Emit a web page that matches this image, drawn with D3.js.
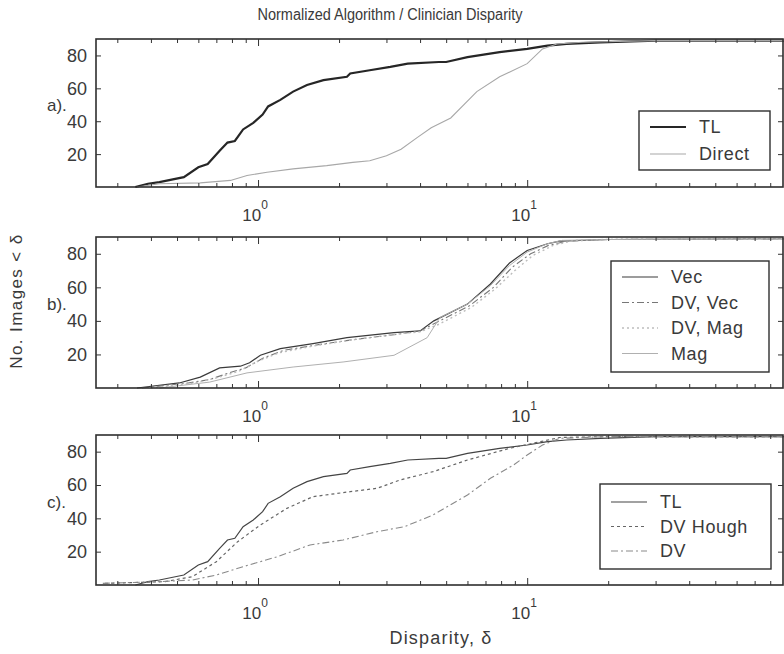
<!DOCTYPE html>
<html>
<head>
<meta charset="utf-8">
<script src="https://cdn.jsdelivr.net/npm/d3@7"></script>
<style>
body { margin:0; background:#fff; }
text { font-family: "Liberation Sans", Arial, sans-serif; fill:#3a3a3a; }
</style>
</head>
<body>
<div id="chart"></div>
<script>
// disparity (x) and cumulative number of images (y)
let tlD = [0.35,0.39,0.43,0.53,0.60,0.65,0.72,0.77,0.82,0.88,0.96,1.04,1.09,1.21,1.35,1.52,1.75,2.14,2.2,2.6,3.1,3.6,4.7,5.0,6.0,7.9,10,11.9,14,18.7,30,90];
let tlN = [0,2,3,6,12,14,22,27,28,35,39,44,49,53,58,62,65,67,69,71,73,75,76,76,79,82,84,86,87,88,89,89];

let directD = [0.355,0.43,0.61,0.79,0.91,1.08,1.35,1.8,2.25,2.6,3.0,3.4,3.9,4.4,5.2,6.5,7.9,10,11.4,12.9,16,30,90];
let directN = [0,2,2.5,4,7,9,11,13,15,16,19,23,30,36,42,58,67,75,84,87,88,89,89];

let vecD = [0.355,0.51,0.61,0.72,0.86,0.93,1.02,1.21,1.6,2.14,3.2,4.0,4.5,6.0,7.3,8.6,10,11.9,13.2,20,90];
let vecN = [0,3,6.5,12,13,15,19.5,23.5,26.5,30,33,34,40,50,62,74.5,82,86,87.5,88.5,89];

let dvVecD = [0.37,0.55,0.66,0.78,0.9,1.05,1.25,1.7,2.3,3.3,4.0,4.6,6.1,7.5,8.8,10.3,12,14,20,90];
let dvVecN = [0,3,5,9,12,18,22.5,26,29,32,34,39,49,60,72,80,85,87.5,88.5,89];

let dvMagD = [0.4,0.58,0.7,0.85,1.0,1.2,1.6,2.2,3.2,4.0,4.7,6.2,7.6,9.0,10.5,12.5,15,25,90];
let dvMagN = [0,3,6,10,16,21,25,28.5,32,33.5,38,48,59,70,79,85,88,89,89];

let magD = [0.43,0.66,0.91,1.35,2.07,3.2,4.25,4.74,6.0,7.3,8.6,10,11.9,13.5,20,90];
let magN = [0,3.5,9,12.5,15.5,19.5,30,42,50,61,73,81,86,88,88.5,89];

let houghD = [0.27,0.45,0.57,0.70,0.84,1.02,1.28,1.6,2.2,2.77,3.37,4.47,6.0,8.6,11.2,13.2,20,90];
let houghN = [1,2,5,14,26,36,46,53,56,58,63,68,75,82,86,88.5,89,89];

let dvD = [0.265,0.43,0.57,0.70,0.88,1.18,1.56,2.07,2.77,3.5,4.47,6.0,7.3,8.9,10,11.4,13.2,20,90];
let dvN = [1,2,3,6,11,17,24,27,32,35,42,54,64,72,78,84,88,89,89];

let yTicks = [20,40,60,80];
let xMajor = [1,10];
let xMinor = [0.3,0.4,0.5,0.6,0.7,0.8,0.9,2,3,4,5,6,7,8,9,20,30,40,50,60,70,80,90];
let xDomain = [0.25,90];
let yDomain = [0,90];

let w = 784, h = 654;

let svg = d3.select("#chart")
    .append("svg")
    .attr("width", w)
    .attr("height", h);

let xScale = d3.scaleLog()
    .domain(xDomain)
    .range([96, 784]);

function zip(ds, ns){
    return ds.map(function(d,i){ return {x:d, y:ns[i]}; });
}

function panel(top, bottom, label, series, legendBox){
    let yScale = d3.scaleLinear()
        .domain(yDomain)
        .range([bottom, top]);

    let g = svg.append("g");

    let line = d3.line()
        .x(function(d){ return xScale(d.x); })
        .y(function(d){ return yScale(d.y); });

    series.forEach(function(s){
        g.append("path")
            .attr("d", line(zip(s.d, s.n)))
            .attr("fill","none")
            .attr("stroke", s.color)
            .attr("stroke-width", s.width)
            .attr("stroke-dasharray", s.dash || null);
    });

    // frame
    g.append("rect")
        .attr("x", xScale.range()[0])
        .attr("y", top)
        .attr("width", xScale.range()[1] - xScale.range()[0] - 1)
        .attr("height", bottom - top)
        .attr("fill","none")
        .attr("stroke","#2e2e2e")
        .attr("stroke-width",1.6);

    // inward ticks, bottom and top
    let xAxisB = d3.axisTop(xScale).tickValues(xMinor).tickSize(4).tickFormat("");
    let xAxisT = d3.axisBottom(xScale).tickValues(xMinor).tickSize(4).tickFormat("");
    let xMajB = d3.axisTop(xScale).tickValues(xMajor).tickSize(7).tickFormat("");
    let xMajT = d3.axisBottom(xScale).tickValues(xMajor).tickSize(7).tickFormat("");
    [[xAxisB,bottom],[xMajB,bottom],[xAxisT,top],[xMajT,top]].forEach(function(a){
        g.append("g")
            .attr("transform","translate(0," + a[1] + ")")
            .call(a[0])
            .call(function(s){ s.select(".domain").remove(); s.selectAll("line").attr("stroke","#333"); });
    });

    let yAxisL = d3.axisRight(yScale).tickValues(yTicks).tickSize(5).tickFormat("");
    let yAxisR = d3.axisLeft(yScale).tickValues(yTicks).tickSize(5).tickFormat("");
    g.append("g").attr("transform","translate(96,0)").call(yAxisL)
        .call(function(s){ s.select(".domain").remove(); s.selectAll("line").attr("stroke","#333"); });
    g.append("g").attr("transform","translate(783,0)").call(yAxisR)
        .call(function(s){ s.select(".domain").remove(); s.selectAll("line").attr("stroke","#333"); });

    g.selectAll("ylab")
        .data(yTicks)
        .enter()
        .append("text")
        .attr("x", 87)
        .attr("y", function(d){ return yScale(d); })
        .attr("dy","0.36em")
        .style("text-anchor","end")
        .style("font-size","18px")
        .text(function(d){ return d; });

    g.append("text")
        .attr("x", 47)
        .attr("y", yScale(50))
        .attr("dy","0.36em")
        .style("font-size","17px")
        .text(label);

    // x tick labels with superscript exponent
    xMajor.forEach(function(v){
        let t = g.append("text")
            .attr("x", xScale(v) - 3)
            .attr("y", bottom + 34)
            .style("text-anchor","middle")
            .style("font-size","17px");
        t.append("tspan").text("10");
        t.append("tspan")
            .attr("dy", -12)
            .style("font-size","12px")
            .text(Math.round(Math.log10(v)));
    });

    // legend
    g.append("rect")
        .attr("x", legendBox.x)
        .attr("y", legendBox.y)
        .attr("width", legendBox.w)
        .attr("height", legendBox.h)
        .attr("fill","#fff")
        .attr("stroke","#2e2e2e")
        .attr("stroke-width",1.4);

    series.forEach(function(s,i){
        let ly = legendBox.y + legendBox.first + i*legendBox.step;
        g.append("line")
            .attr("x1", legendBox.x + 11)
            .attr("x2", legendBox.x + 47)
            .attr("y1", ly)
            .attr("y2", ly)
            .attr("stroke", s.color)
            .attr("stroke-width", s.width)
            .attr("stroke-dasharray", s.dash || null);
        g.append("text")
            .attr("x", legendBox.x + 60)
            .attr("y", ly)
            .attr("dy","0.36em")
            .style("font-size","18px")
            .style("letter-spacing","0.6px")
            .text(s.name);
    });
}

panel(39, 187, "a).", [
    {name:"TL", d:tlD, n:tlN, color:"#262626", width:2.2},
    {name:"Direct", d:directD, n:directN, color:"#a8a8a8", width:1.1}
], {x:639, y:111, w:131, h:59, first:16, step:27});

panel(237, 388, "b).", [
    {name:"Vec", d:vecD, n:vecN, color:"#3a3a3a", width:1.2},
    {name:"DV, Vec", d:dvVecD, n:dvVecN, color:"#777", width:1.1, dash:"7,3,2,3"},
    {name:"DV, Mag", d:dvMagD, n:dvMagN, color:"#bdbdbd", width:1.4, dash:"2,3"},
    {name:"Mag", d:magD, n:magN, color:"#b0b0b0", width:1}
], {x:611, y:261, w:158, h:111, first:16, step:25.5});

panel(435, 585, "c).", [
    {name:"TL", d:tlD, n:tlN, color:"#444", width:1.2},
    {name:"DV Hough", d:houghD, n:houghN, color:"#666", width:1.2, dash:"3,3"},
    {name:"DV", d:dvD, n:dvN, color:"#8a8a8a", width:1.1, dash:"7,3,2,3"}
], {x:600, y:484, w:171, h:85, first:18, step:24.5});

svg.append("text")
    .attr("x", 390)
    .attr("y", 20)
    .style("text-anchor","middle")
    .style("font-size","16px")
    .attr("textLength", 265)
    .attr("lengthAdjust","spacingAndGlyphs")
    .text("Normalized Algorithm / Clinician Disparity");

svg.append("text")
    .attr("x", 441)
    .attr("y", 644)
    .style("text-anchor","middle")
    .style("font-size","18px")
    .style("letter-spacing","1.2px")
    .text("Disparity, δ");

svg.append("text")
    .attr("transform","translate(22,301) rotate(-90)")
    .style("text-anchor","middle")
    .style("font-size","17px")
    .style("letter-spacing","1.4px")
    .text("No. Images < δ");
</script>
</body>
</html>
